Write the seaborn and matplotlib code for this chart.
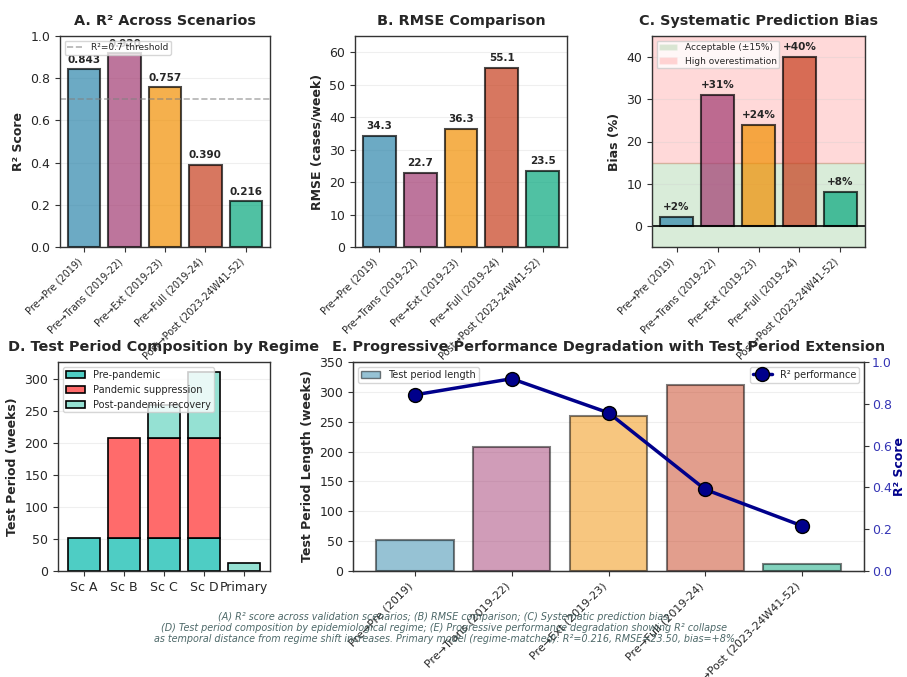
import matplotlib
matplotlib.use("Agg")
import matplotlib.pyplot as plt
import seaborn as sns
import pandas as pd
import numpy as np
from matplotlib.patches import Patch

sns.set_style("white")
plt.rcParams['font.family'] = ['DejaVu Sans']

# ---------------- data ----------------
scenarios = ["Pre→Pre (2019)", "Pre→Trans (2019-22)", "Pre→Ext (2019-23)",
             "Pre→Full (2019-24)", "Post→Post (2023-24W41-52)"]
r2_values = [0.843, 0.920, 0.757, 0.390, 0.216]
rmse_values = [34.3, 22.7, 36.3, 55.1, 23.5]
bias_values = [2, 31, 24, 40, 8]
test_lengths = [52, 208, 260, 312, 12]

comp_labels = ["Sc A", "Sc B", "Sc C", "Sc D", "Primary"]
comp_pre = [52, 52, 52, 52, 0]
comp_pandemic = [0, 156, 156, 156, 0]
comp_post = [0, 0, 52, 104, 12]

colors = ["#2E86AB", "#A23B72", "#F18F01", "#C73E1D", "#06A77D"]
regime_colors = ["#4ECDC4", "#FF6B6B", "#95E1D3"]

df = pd.DataFrame({"scenario": scenarios, "r2": r2_values, "rmse": rmse_values,
                   "bias": bias_values, "length": test_lengths})

W, H = 907, 677
fig = plt.figure(figsize=(W / 100, H / 100), dpi=100)


def px_axes(x0, y0, x1, y1):
    return fig.add_axes([x0 / W, 1 - y1 / H, (x1 - x0) / W, (y1 - y0) / H])


axA = px_axes(60, 36, 270, 247)
axB = px_axes(355, 36, 567, 247)
axC = px_axes(652, 36, 865, 247)
axD = px_axes(58, 362, 270, 571)
axE = px_axes(353, 362, 864, 571)

title_kw = dict(fontsize=10.4, fontweight="bold", pad=8)
lab_kw = dict(fontsize=9, fontweight="bold")


def style_ax(ax):
    for s in ax.spines.values():
        s.set_visible(True)
        s.set_color("#333333")
        s.set_linewidth(1.0)
    ax.tick_params(axis="both", which="both", length=3.5, width=0.8,
                   color="#333333", labelsize=9, bottom=True, left=True)
    ax.grid(axis="y", alpha=0.3)
    ax.set_axisbelow(True)


def bars(ax, col, alpha=0.7, xpad=0.6):
    sns.barplot(data=df, x="scenario", y=col, hue="scenario", palette=colors,
                legend=False, ax=ax, alpha=alpha, edgecolor="black",
                linewidth=1.5, width=0.8, saturation=1)
    ax.set_xlabel("")
    ax.set_xticks(range(len(scenarios)))
    ax.set_xticklabels(scenarios, rotation=45, ha="right", fontsize=7)
    ax.set_xlim(-xpad, len(scenarios) - 1 + xpad)


# ---------- A ----------
bars(axA, "r2")
axA.axhline(0.7, color="gray", ls="--", lw=1.2, alpha=0.6, label="R²=0.7 threshold")
axA.set_ylim(0, 1.0)
axA.set_ylabel("R² Score", **lab_kw)
axA.set_title("A. R² Across Scenarios", **title_kw)
for i, v in enumerate(r2_values):
    axA.text(i, v + 0.02, f"{v:.3f}", ha="center", va="bottom", fontsize=7.5,
             fontweight="bold")
axA.legend(loc="upper left", fontsize=6.5, borderpad=0.3, handlelength=1.8)
style_ax(axA)
axA.tick_params(axis="x", labelsize=7)

# ---------- B ----------
bars(axB, "rmse")
axB.set_ylim(0, 65)
axB.set_ylabel("RMSE (cases/week)", **lab_kw)
axB.set_title("B. RMSE Comparison", **title_kw)
for i, v in enumerate(rmse_values):
    axB.text(i, v + 1.5, f"{v:.1f}", ha="center", va="bottom", fontsize=7.5,
             fontweight="bold")
style_ax(axB)
axB.tick_params(axis="x", labelsize=7)

# ---------- C ----------
axC.axhspan(-5, 15, color="green", alpha=0.15, zorder=0)
axC.axhspan(15, 45, color="red", alpha=0.15, zorder=0)
bars(axC, "bias")
axC.axhline(0, color="black", lw=1.2)
axC.set_ylim(-5, 45)
axC.set_ylabel("Bias (%)", **lab_kw)
axC.set_title("C. Systematic Prediction Bias", **title_kw)
for i, v in enumerate(bias_values):
    axC.text(i, v + 1.2, f"+{v}%", ha="center", va="bottom", fontsize=7.5,
             fontweight="bold")
handles = [Patch(facecolor="green", alpha=0.15), Patch(facecolor="red", alpha=0.15)]
axC.legend(handles, ["Acceptable (±15%)", "High overestimation"], loc="upper left",
           fontsize=6.5, borderpad=0.3)
style_ax(axC)
axC.tick_params(axis="x", labelsize=7)

# ---------- D ----------
xD = np.arange(len(comp_labels))
pre = np.array(comp_pre, float)
pan = np.array(comp_pandemic, float)
post = np.array(comp_post, float)
m = pre > 0
axD.bar(xD[m], pre[m], width=0.8, color=regime_colors[0], edgecolor="black",
        linewidth=1.2, label="Pre-pandemic")
m = pan > 0
axD.bar(xD[m], pan[m], bottom=pre[m], width=0.8, color=regime_colors[1],
        edgecolor="black", linewidth=1.2, label="Pandemic suppression")
m = post > 0
axD.bar(xD[m], post[m], bottom=(pre + pan)[m], width=0.8, color=regime_colors[2],
        edgecolor="black", linewidth=1.2, label="Post-pandemic recovery")
axD.set_xticks(xD)
axD.set_xticklabels(comp_labels)
axD.set_xlim(-0.64, 4.64)
axD.set_ylim(0, 327)
axD.set_ylabel("Test Period (weeks)", **lab_kw)
axD.set_title("D. Test Period Composition by Regime", **title_kw)
axD.legend(loc="upper left", fontsize=7, borderpad=0.3)
style_ax(axD)

# ---------- E ----------
bars(axE, "length", alpha=0.5, xpad=0.64)
axE.set_ylim(0, 350)
axE.set_ylabel("Test Period Length (weeks)", **lab_kw)
axE.set_title("E. Progressive Performance Degradation with Test Period Extension",
              **title_kw)
axE.legend([Patch(facecolor=colors[0], alpha=0.5, edgecolor="black")],
           ["Test period length"], loc="upper left", fontsize=7, borderpad=0.3)
style_ax(axE)
axE.set_xticklabels(scenarios, rotation=45, ha="right", fontsize=8)

axE2 = axE.twinx()
sns.lineplot(x=np.arange(len(scenarios)), y=r2_values, ax=axE2, color="darkblue",
             lw=2.5, marker="o", markersize=10, markeredgecolor="black",
             markeredgewidth=1.0, label="R² performance")
axE2.set_xlim(-0.64, 4.64)
axE2.set_ylim(0, 1.0)
axE2.set_ylabel("R² Score", fontsize=9, fontweight="bold", color="darkblue",
                labelpad=1)
axE2.tick_params(axis="y", labelcolor="#3535b5", labelsize=9, length=3.5,
                 color="#333333", pad=2)
axE2.legend(loc="upper right", fontsize=7, borderpad=0.3)
axE2.grid(False)
for s in axE2.spines.values():
    s.set_color("#333333")

# ---------- caption ----------
caption = ("(A) R² score across validation scenarios; (B) RMSE comparison; (C) Systematic prediction bias;\n"
           "(D) Test period composition by epidemiological regime; (E) Progressive performance degradation showing R² collapse\n"
           "as temporal distance from regime shift increases. Primary model (regime-matched): R²=0.216, RMSE=23.50, bias=+8%")
fig.text(0.49, 1 - 612 / H, caption, ha="center", va="top", fontsize=6.9,
         style="italic", color="#2F4F4F", alpha=0.85, linespacing=1.1)

fig.savefig("out.png", dpi=100, facecolor="white")
